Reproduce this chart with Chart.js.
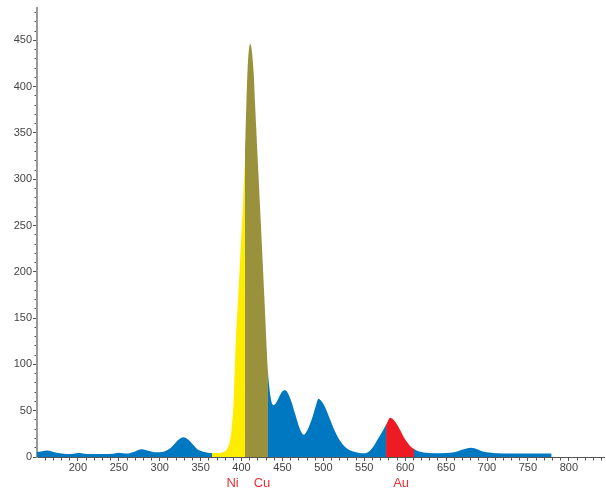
<!DOCTYPE html>
<html>
<head>
<meta charset="utf-8">
<script src="https://cdn.jsdelivr.net/npm/chart.js@4/dist/chart.umd.min.js"></script>
<style>
  html, body { margin: 0; padding: 0; background: #ffffff; }
  #wrap { width: 606px; height: 491px; }
</style>
</head>
<body>
<div id="wrap"><canvas id="c" width="606" height="491"></canvas></div>
<script>
// ---- data ----
const channel = [150,155,163,170,178,187,195,201,208,215,230,243,249,255,260,268,278,287,297,307,312,317,323,329,335,341,346,350,356,362,363.9,370,377,382,386,388,390,393,396,399,402,404.2,407.3,410.6,414.7,416.6,420.7,424,428,431,432.3,436,439,442,446,450,453,456,460,466,471,476,481,487,491,494,497,502,508,514,520,527,533,540,548,555,561,565,569,573,576.6,581.6,586,590,594,598,602,606,610.8,617,625,635,650,660,667,674,681,688,695,703,712,730,750,779];
const counts  = [5.5,6,7,5.5,4,3.2,3.5,4.6,3.5,3.2,3.2,3.5,4.6,4,3.8,5.5,8.5,6.5,5,6.5,9,13,18.5,21.2,18.5,13,8.5,6.8,5,4.2,4.2,4.2,5,8,18,32,54,126,175,225,278,325,417,446,417,380,305,245,170,112,91,62,56,58,65,71,72,70,62,45,31,24,30,44,56,63,61,54,41,28,18,10.5,7,5,4,5.5,11,17,23,29,34.5,42.4,40,35,29,22,16.5,12,8.6,6,4.5,4,4.2,5,7,9,10,8.5,6,4.8,4,3.7,3.7,3.7];

const elementNames   = ['Ni', 'Cu', 'Au'];
const elementStart   = [363.9, 404.2, 576.6];
const elementEnd     = [404.2, 432.3, 610.8];
const elementLabelAt = [389, 425, 595];

const xLabelValues = [200,250,300,350,400,450,500,550,600,650,700,750,800];
const yLabelValues = [0,50,100,150,200,250,300,350,400,450];

// ---- styles ----
const baseColor = '#0078c1';
const elementColors = ['#ffed00', '#9a913c', '#ed1c24'];
const labelFont = { family: "'Liberation Sans', Arial, sans-serif", size: 11 };

function regionColor(x) {
  for (let i = 0; i < elementNames.length; i++) {
    if (x >= elementStart[i] && x < elementEnd[i]) return elementColors[i];
  }
  return baseColor;
}

const points = channel.map((x, i) => ({ x: x, y: counts[i] }));

new Chart(document.getElementById('c'), {
  type: 'line',
  data: {
    datasets: [{
      data: points,
      borderWidth: 0,
      borderColor: 'rgba(0,0,0,0)',
      backgroundColor: baseColor,
      fill: 'origin',
      pointRadius: 0,
      cubicInterpolationMode: 'monotone',
      segment: {
        backgroundColor: ctx => regionColor(channel[ctx.p0DataIndex])
      }
    }]
  },
  options: {
    responsive: false,
    devicePixelRatio: 1,
    animation: false,
    events: [],
    layout: { padding: { top: 8, right: 2, left: 0, bottom: 0 } },
    plugins: { legend: { display: false }, tooltip: { enabled: false }, title: { display: false } },
    scales: {
      x: {
        type: 'linear', position: 'bottom', min: 150, max: 843,
        afterBuildTicks: ax => { const t = []; for (let v = 160; v <= 840; v += 10) t.push({ value: v }); ax.ticks = t; },
        afterFit: ax => { ax.height = 17; },
        ticks: {
          autoSkip: false, maxRotation: 0, minRotation: 0, padding: 0,
          color: '#444', font: labelFont,
          callback: v => xLabelValues.includes(v) ? String(v) : ''
        },
        grid: {
          drawOnChartArea: false, tickLength: 4, tickColor: '#555', tickWidth: 1,
          tickBorderDash: c => (c.tick && c.tick.value % 50 === 0) ? [] : [2.5, 10],
          tickBorderDashOffset: 0
        },
        border: { color: '#555', width: 1 }
      },
      x2: {
        type: 'linear', position: 'bottom', min: 150, max: 843,
        afterBuildTicks: ax => { ax.ticks = elementLabelAt.map(v => ({ value: v })); },
        afterFit: ax => { ax.height = 17; },
        ticks: {
          autoSkip: false, maxRotation: 0, minRotation: 0, padding: 2,
          color: '#e53238', font: { family: "'Liberation Sans', Arial, sans-serif", size: 13 },
          callback: (v, i) => elementNames[i]
        },
        grid: { display: false, drawTicks: false, tickLength: 0 },
        border: { display: false }
      },
      y: {
        type: 'linear', position: 'left', min: 0, max: 485,
        afterBuildTicks: ax => { const t = []; for (let v = 0; v <= 480; v += 10) t.push({ value: v }); ax.ticks = t; },
        afterFit: ax => { ax.width = 37; },
        ticks: {
          autoSkip: false, padding: 1, color: '#444', font: labelFont,
          callback: v => yLabelValues.includes(v) ? String(v) : ''
        },
        grid: {
          drawOnChartArea: false, tickLength: 4, tickColor: '#555', tickWidth: 1,
          tickBorderDash: c => (c.tick && c.tick.value % 50 === 0) ? [] : [2.5, 1.5],
          tickBorderDashOffset: c => (c.tick && c.tick.value % 50 === 0) ? 0 : 2.5
        },
        border: { color: '#9a9a9a', width: 2 }
      }
    }
  }
});
</script>
</body>
</html>
